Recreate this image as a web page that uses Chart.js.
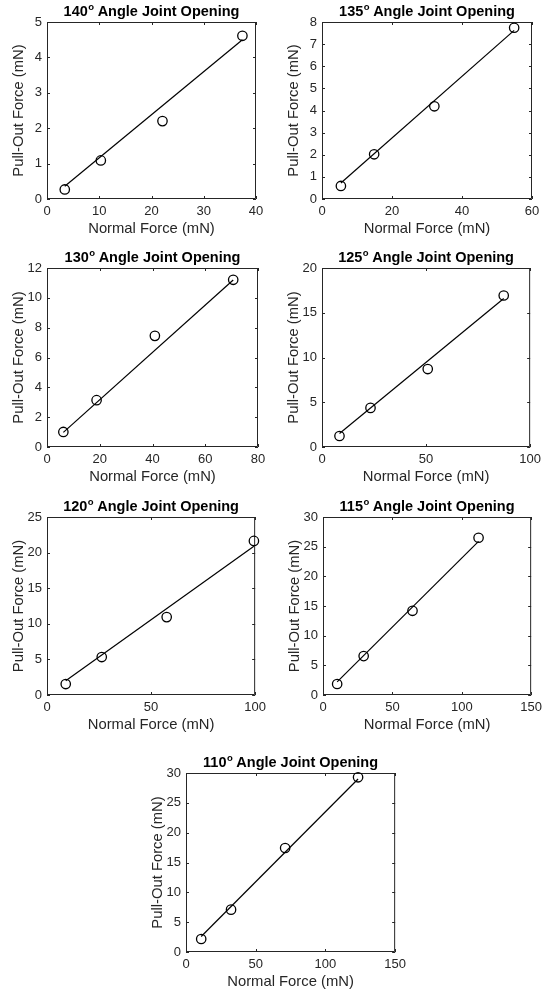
<!DOCTYPE html>
<html><head><meta charset="utf-8">
<script src="https://cdn.jsdelivr.net/npm/chart.js@4"></script>
<style>
html,body{margin:0;padding:0;background:#fff;width:543px;height:993px;overflow:hidden;position:relative}
canvas{position:absolute}
</style></head><body>
<script>
// ---- data ----
const angles = ["140", "135", "130", "125", "120", "115", "110"];

const normal140 = [3.4, 10.3, 22.1, 37.4];
const pull140   = [0.27, 1.09, 2.2, 4.61];
const fitX140   = [3.4, 37.4];
const fitY140   = [0.36, 4.5];

const normal135 = [5.4, 14.9, 32.1, 54.9];
const pull135   = [0.59, 2.02, 4.19, 7.74];
const fitX135   = [5.4, 54.9];
const fitY135   = [0.72, 7.62];

const normal130 = [6.2, 18.8, 40.9, 70.6];
const pull130   = [1.01, 3.14, 7.45, 11.21];
const fitX130   = [6.2, 70.6];
const fitY130   = [0.98, 11.2];

const normal125 = [8.4, 23.3, 50.8, 87.3];
const pull125   = [1.23, 4.37, 8.71, 16.93];
const fitX125   = [8.4, 87.3];
const fitY125   = [1.5, 16.6];

const normal120 = [9.0, 26.3, 57.5, 99.4];
const pull120   = [1.54, 5.33, 10.94, 21.64];
const fitX120   = [9.0, 99.4];
const fitY120   = [2.0, 20.9];

const normal115 = [10.2, 29.3, 64.5, 112.1];
const pull115   = [1.85, 6.56, 14.19, 26.5];
const fitX115   = [10.2, 112.1];
const fitY115   = [2.2, 25.9];

const normal110 = [10.9, 32.3, 71.1, 123.4];
const pull110   = [2.18, 7.1, 17.43, 29.28];
const fitX110   = [10.9, 123.4];
const fitY110   = [2.6, 29.0];

const xMax  = [40, 60, 80, 100, 100, 150, 150];
const xStep = [10, 20, 20, 50, 50, 50, 50];
const yMax  = [5, 8, 12, 20, 25, 30, 30];
const yStep = [1, 1, 2, 5, 5, 5, 5];

const xLabel = "Normal Force (mN)";
const yLabel = "Pull-Out Force (mN)";
const titleRest = " Angle Joint Opening";

// ---- layout (plot-area boxes, px) ----
const boxes = [
  {l: 47,  t: 22,  w: 209, h: 177},
  {l: 322, t: 22,  w: 210, h: 177},
  {l: 47,  t: 268, w: 211, h: 179},
  {l: 322, t: 268, w: 210, h: 179},
  {l: 47,  t: 517, w: 210, h: 178},
  {l: 323, t: 517, w: 210, h: 178},
  {l: 186, t: 773, w: 211, h: 179}
];

const series = [
  [normal140, pull140, fitX140, fitY140],
  [normal135, pull135, fitX135, fitY135],
  [normal130, pull130, fitX130, fitY130],
  [normal125, pull125, fitX125, fitY125],
  [normal120, pull120, fitX120, fitY120],
  [normal115, pull115, fitX115, fitY115],
  [normal110, pull110, fitX110, fitY110]
];

const FONT = "'Liberation Sans', Arial, Helvetica, sans-serif";
const AXC = '#262626';
const PADL = 47, PADT = 22, PADR = 14, XH = 45, TICK = 3;

const framePlugin = {
  id: 'frame',
  beforeDatasetsDraw(chart) {
    const ctx = chart.ctx, ca = chart.chartArea;
    const xs = chart.scales.x, ys = chart.scales.y;
    ctx.save();
    ctx.strokeStyle = AXC;
    ctx.lineWidth = 1;
    ctx.beginPath();
    ctx.rect(ca.left + 0.5, ca.top + 0.5, ca.right - ca.left - 1, ca.bottom - ca.top - 1);
    xs.ticks.forEach(t => {
      const p = Math.round(xs.getPixelForValue(t.value)) + 0.5;
      ctx.moveTo(p, ca.bottom); ctx.lineTo(p, ca.bottom - TICK);
      ctx.moveTo(p, ca.top); ctx.lineTo(p, ca.top + TICK);
    });
    ys.ticks.forEach(t => {
      const p = Math.round(ys.getPixelForValue(t.value)) + 0.5;
      ctx.moveTo(ca.left, p); ctx.lineTo(ca.left + TICK, p);
      ctx.moveTo(ca.right, p); ctx.lineTo(ca.right - TICK, p);
    });
    ctx.stroke();
    ctx.restore();
  },
  afterDraw(chart, args, opts) {
    const ctx = chart.ctx, ca = chart.chartArea;
    const big = `bold 14.5px ${FONT}`, small = `bold 9.5px ${FONT}`;
    ctx.save();
    ctx.fillStyle = '#000';
    ctx.textBaseline = 'alphabetic';
    ctx.textAlign = 'left';
    ctx.font = big;
    const w1 = ctx.measureText(opts.angle).width;
    const w3 = ctx.measureText(titleRest).width;
    ctx.font = small;
    const w2 = ctx.measureText('o').width;
    let x = (ca.left + ca.right) / 2 - (w1 + w2 + w3) / 2;
    const y = ca.top - 6;
    ctx.font = big; ctx.fillText(opts.angle, x, y); x += w1;
    ctx.font = small; ctx.fillText('o', x + 0.5, y - 6); x += w2;
    ctx.font = big; ctx.fillText(titleRest, x, y);
    ctx.restore();
  }
};

boxes.forEach((b, i) => {
  const [nx, py, fx, fy] = series[i];
  const c = document.createElement('canvas');
  const W = PADL + b.w + PADR, H = PADT + b.h + XH;
  c.width = W; c.height = H;
  c.style.width = W + 'px'; c.style.height = H + 'px';
  c.style.left = (b.l - PADL) + 'px'; c.style.top = (b.t - PADT) + 'px';
  document.body.appendChild(c);
  new Chart(c, {
    type: 'scatter',
    data: {
      datasets: [
        {
          data: fx.map((v, k) => ({x: v, y: fy[k]})),
          showLine: true, pointRadius: 0, borderColor: '#000', borderWidth: 1.2,
          backgroundColor: 'transparent', tension: 0, clip: false
        },
        {
          data: nx.map((v, k) => ({x: v, y: py[k]})),
          showLine: false, pointStyle: 'circle', pointRadius: 4.7,
          pointBorderWidth: 1.3, pointBorderColor: '#000',
          pointBackgroundColor: 'transparent', borderColor: '#000', clip: false
        }
      ]
    },
    options: {
      responsive: false, animation: false, devicePixelRatio: 1,
      layout: {padding: {left: 0, top: PADT, right: PADR, bottom: 0}},
      plugins: {legend: {display: false}, tooltip: {enabled: false}, title: {display: false},
                frame: {angle: angles[i]}},
      scales: {
        x: {
          type: 'linear', min: 0, max: xMax[i],
          ticks: {stepSize: xStep[i], color: AXC, font: {family: FONT, size: 13}, padding: 5,
                  maxRotation: 0, autoSkip: false},
          grid: {display: false, drawTicks: false},
          border: {display: false},
          title: {display: true, text: xLabel, color: AXC, font: {family: FONT, size: 14.8},
                  padding: {top: 0, bottom: 6}},
          afterFit: s => { s.height = XH; }
        },
        y: {
          type: 'linear', min: 0, max: yMax[i],
          ticks: {stepSize: yStep[i], color: AXC, font: {family: FONT, size: 13}, padding: 5,
                  autoSkip: false},
          grid: {display: false, drawTicks: false},
          border: {display: false},
          title: {display: true, text: yLabel, color: AXC, font: {family: FONT, size: 14.8},
                  padding: {top: 10, bottom: 0}},
          afterFit: s => { s.width = PADL; }
        }
      }
    },
    plugins: [framePlugin]
  });
});
</script>
</body></html>
